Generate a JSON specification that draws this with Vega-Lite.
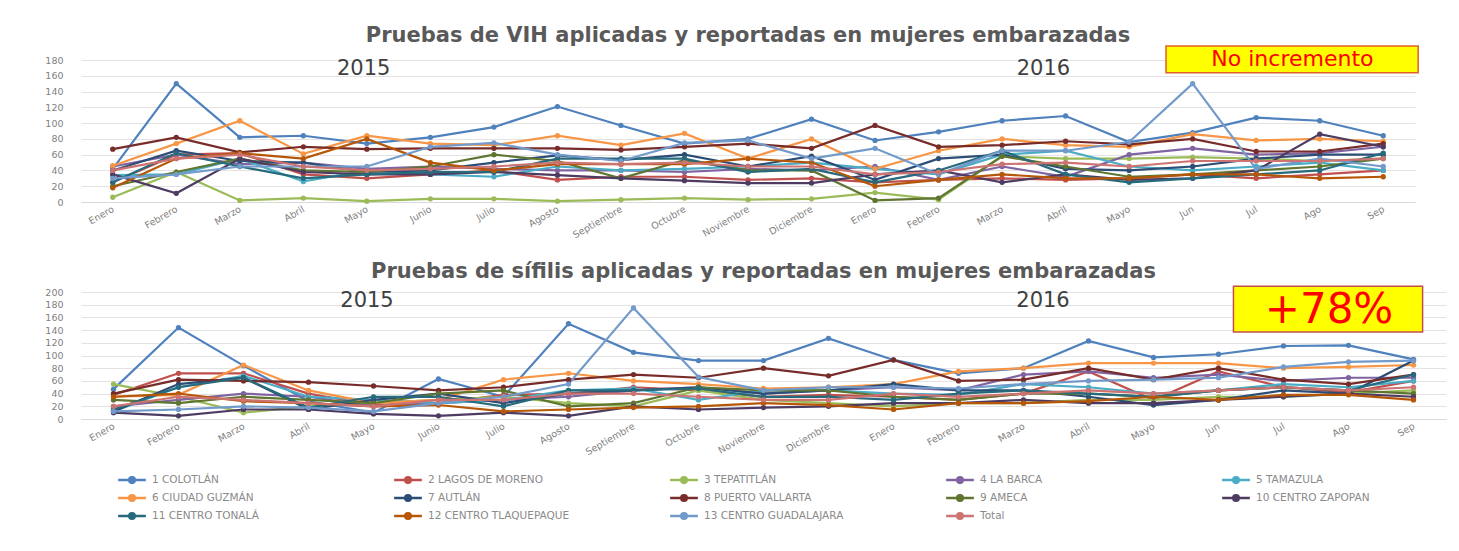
{
"$schema": "https://vega.github.io/schema/vega-lite/v6.json",
"background": "white",
"padding": {"left": 44, "top": 25, "right": 5, "bottom": 5},
"spacing": 20,
"config": {
  "view": {"stroke": null},
  "font": "DejaVu Sans",
  "axis": {"labelColor": "#7F7F7F", "labelFont": "DejaVu Sans", "labelFontSize": 9.5, "ticks": false, "title": null},
  "title": {"font": "DejaVu Sans", "fontWeight": "bold", "fontSize": 21, "color": "#595959", "anchor": "middle", "frame": "group"}
},
"datasets": {
"vih": [
{"m":0,"s":"1 COLOTLÁN","v":42},{"m":1,"s":"1 COLOTLÁN","v":150},{"m":2,"s":"1 COLOTLÁN","v":82},{"m":3,"s":"1 COLOTLÁN","v":84},{"m":4,"s":"1 COLOTLÁN","v":74},{"m":5,"s":"1 COLOTLÁN","v":82},{"m":6,"s":"1 COLOTLÁN","v":95},{"m":7,"s":"1 COLOTLÁN","v":121},{"m":8,"s":"1 COLOTLÁN","v":97},{"m":9,"s":"1 COLOTLÁN","v":74},{"m":10,"s":"1 COLOTLÁN","v":80},{"m":11,"s":"1 COLOTLÁN","v":105},{"m":12,"s":"1 COLOTLÁN","v":78},{"m":13,"s":"1 COLOTLÁN","v":89},{"m":14,"s":"1 COLOTLÁN","v":103},{"m":15,"s":"1 COLOTLÁN","v":109},{"m":16,"s":"1 COLOTLÁN","v":76},{"m":17,"s":"1 COLOTLÁN","v":88},{"m":18,"s":"1 COLOTLÁN","v":107},{"m":19,"s":"1 COLOTLÁN","v":103},{"m":20,"s":"1 COLOTLÁN","v":84},
{"m":0,"s":"2 LAGOS DE MORENO","v":25},{"m":1,"s":"2 LAGOS DE MORENO","v":60},{"m":2,"s":"2 LAGOS DE MORENO","v":62},{"m":3,"s":"2 LAGOS DE MORENO","v":35},{"m":4,"s":"2 LAGOS DE MORENO","v":30},{"m":5,"s":"2 LAGOS DE MORENO","v":35},{"m":6,"s":"2 LAGOS DE MORENO","v":40},{"m":7,"s":"2 LAGOS DE MORENO","v":28},{"m":8,"s":"2 LAGOS DE MORENO","v":32},{"m":9,"s":"2 LAGOS DE MORENO","v":32},{"m":10,"s":"2 LAGOS DE MORENO","v":28},{"m":11,"s":"2 LAGOS DE MORENO","v":30},{"m":12,"s":"2 LAGOS DE MORENO","v":25},{"m":13,"s":"2 LAGOS DE MORENO","v":28},{"m":14,"s":"2 LAGOS DE MORENO","v":30},{"m":15,"s":"2 LAGOS DE MORENO","v":28},{"m":16,"s":"2 LAGOS DE MORENO","v":30},{"m":17,"s":"2 LAGOS DE MORENO","v":35},{"m":18,"s":"2 LAGOS DE MORENO","v":30},{"m":19,"s":"2 LAGOS DE MORENO","v":35},{"m":20,"s":"2 LAGOS DE MORENO","v":40},
{"m":0,"s":"3 TEPATITLÁN","v":6},{"m":1,"s":"3 TEPATITLÁN","v":38},{"m":2,"s":"3 TEPATITLÁN","v":2},{"m":3,"s":"3 TEPATITLÁN","v":5},{"m":4,"s":"3 TEPATITLÁN","v":1},{"m":5,"s":"3 TEPATITLÁN","v":4},{"m":6,"s":"3 TEPATITLÁN","v":4},{"m":7,"s":"3 TEPATITLÁN","v":1},{"m":8,"s":"3 TEPATITLÁN","v":3},{"m":9,"s":"3 TEPATITLÁN","v":5},{"m":10,"s":"3 TEPATITLÁN","v":3},{"m":11,"s":"3 TEPATITLÁN","v":4},{"m":12,"s":"3 TEPATITLÁN","v":12},{"m":13,"s":"3 TEPATITLÁN","v":3},{"m":14,"s":"3 TEPATITLÁN","v":58},{"m":15,"s":"3 TEPATITLÁN","v":55},{"m":16,"s":"3 TEPATITLÁN","v":55},{"m":17,"s":"3 TEPATITLÁN","v":57},{"m":18,"s":"3 TEPATITLÁN","v":55},{"m":19,"s":"3 TEPATITLÁN","v":52},{"m":20,"s":"3 TEPATITLÁN","v":55},
{"m":0,"s":"4 LA BARCA","v":45},{"m":1,"s":"4 LA BARCA","v":60},{"m":2,"s":"4 LA BARCA","v":48},{"m":3,"s":"4 LA BARCA","v":50},{"m":4,"s":"4 LA BARCA","v":42},{"m":5,"s":"4 LA BARCA","v":45},{"m":6,"s":"4 LA BARCA","v":42},{"m":7,"s":"4 LA BARCA","v":40},{"m":8,"s":"4 LA BARCA","v":40},{"m":9,"s":"4 LA BARCA","v":38},{"m":10,"s":"4 LA BARCA","v":42},{"m":11,"s":"4 LA BARCA","v":40},{"m":12,"s":"4 LA BARCA","v":45},{"m":13,"s":"4 LA BARCA","v":28},{"m":14,"s":"4 LA BARCA","v":45},{"m":15,"s":"4 LA BARCA","v":32},{"m":16,"s":"4 LA BARCA","v":60},{"m":17,"s":"4 LA BARCA","v":68},{"m":18,"s":"4 LA BARCA","v":60},{"m":19,"s":"4 LA BARCA","v":62},{"m":20,"s":"4 LA BARCA","v":70},
{"m":0,"s":"5 TAMAZULA","v":34},{"m":1,"s":"5 TAMAZULA","v":35},{"m":2,"s":"5 TAMAZULA","v":55},{"m":3,"s":"5 TAMAZULA","v":26},{"m":4,"s":"5 TAMAZULA","v":40},{"m":5,"s":"5 TAMAZULA","v":35},{"m":6,"s":"5 TAMAZULA","v":32},{"m":7,"s":"5 TAMAZULA","v":45},{"m":8,"s":"5 TAMAZULA","v":40},{"m":9,"s":"5 TAMAZULA","v":42},{"m":10,"s":"5 TAMAZULA","v":45},{"m":11,"s":"5 TAMAZULA","v":50},{"m":12,"s":"5 TAMAZULA","v":42},{"m":13,"s":"5 TAMAZULA","v":35},{"m":14,"s":"5 TAMAZULA","v":60},{"m":15,"s":"5 TAMAZULA","v":65},{"m":16,"s":"5 TAMAZULA","v":45},{"m":17,"s":"5 TAMAZULA","v":40},{"m":18,"s":"5 TAMAZULA","v":45},{"m":19,"s":"5 TAMAZULA","v":50},{"m":20,"s":"5 TAMAZULA","v":40},
{"m":0,"s":"6 CIUDAD GUZMÁN","v":46},{"m":1,"s":"6 CIUDAD GUZMÁN","v":74},{"m":2,"s":"6 CIUDAD GUZMÁN","v":103},{"m":3,"s":"6 CIUDAD GUZMÁN","v":61},{"m":4,"s":"6 CIUDAD GUZMÁN","v":84},{"m":5,"s":"6 CIUDAD GUZMÁN","v":74},{"m":6,"s":"6 CIUDAD GUZMÁN","v":72},{"m":7,"s":"6 CIUDAD GUZMÁN","v":84},{"m":8,"s":"6 CIUDAD GUZMÁN","v":72},{"m":9,"s":"6 CIUDAD GUZMÁN","v":87},{"m":10,"s":"6 CIUDAD GUZMÁN","v":55},{"m":11,"s":"6 CIUDAD GUZMÁN","v":80},{"m":12,"s":"6 CIUDAD GUZMÁN","v":42},{"m":13,"s":"6 CIUDAD GUZMÁN","v":65},{"m":14,"s":"6 CIUDAD GUZMÁN","v":80},{"m":15,"s":"6 CIUDAD GUZMÁN","v":72},{"m":16,"s":"6 CIUDAD GUZMÁN","v":70},{"m":17,"s":"6 CIUDAD GUZMÁN","v":86},{"m":18,"s":"6 CIUDAD GUZMÁN","v":78},{"m":19,"s":"6 CIUDAD GUZMÁN","v":80},{"m":20,"s":"6 CIUDAD GUZMÁN","v":77},
{"m":0,"s":"7 AUTLÁN","v":40},{"m":1,"s":"7 AUTLÁN","v":65},{"m":2,"s":"7 AUTLÁN","v":52},{"m":3,"s":"7 AUTLÁN","v":50},{"m":4,"s":"7 AUTLÁN","v":38},{"m":5,"s":"7 AUTLÁN","v":40},{"m":6,"s":"7 AUTLÁN","v":50},{"m":7,"s":"7 AUTLÁN","v":59},{"m":8,"s":"7 AUTLÁN","v":53},{"m":9,"s":"7 AUTLÁN","v":60},{"m":10,"s":"7 AUTLÁN","v":45},{"m":11,"s":"7 AUTLÁN","v":58},{"m":12,"s":"7 AUTLÁN","v":28},{"m":13,"s":"7 AUTLÁN","v":55},{"m":14,"s":"7 AUTLÁN","v":60},{"m":15,"s":"7 AUTLÁN","v":42},{"m":16,"s":"7 AUTLÁN","v":40},{"m":17,"s":"7 AUTLÁN","v":45},{"m":18,"s":"7 AUTLÁN","v":55},{"m":19,"s":"7 AUTLÁN","v":60},{"m":20,"s":"7 AUTLÁN","v":60},
{"m":0,"s":"8 PUERTO VALLARTA","v":67},{"m":1,"s":"8 PUERTO VALLARTA","v":82},{"m":2,"s":"8 PUERTO VALLARTA","v":63},{"m":3,"s":"8 PUERTO VALLARTA","v":70},{"m":4,"s":"8 PUERTO VALLARTA","v":67},{"m":5,"s":"8 PUERTO VALLARTA","v":68},{"m":6,"s":"8 PUERTO VALLARTA","v":68},{"m":7,"s":"8 PUERTO VALLARTA","v":68},{"m":8,"s":"8 PUERTO VALLARTA","v":66},{"m":9,"s":"8 PUERTO VALLARTA","v":70},{"m":10,"s":"8 PUERTO VALLARTA","v":74},{"m":11,"s":"8 PUERTO VALLARTA","v":68},{"m":12,"s":"8 PUERTO VALLARTA","v":97},{"m":13,"s":"8 PUERTO VALLARTA","v":70},{"m":14,"s":"8 PUERTO VALLARTA","v":72},{"m":15,"s":"8 PUERTO VALLARTA","v":77},{"m":16,"s":"8 PUERTO VALLARTA","v":73},{"m":17,"s":"8 PUERTO VALLARTA","v":80},{"m":18,"s":"8 PUERTO VALLARTA","v":64},{"m":19,"s":"8 PUERTO VALLARTA","v":64},{"m":20,"s":"8 PUERTO VALLARTA","v":74},
{"m":0,"s":"9 AMECA","v":20},{"m":1,"s":"9 AMECA","v":38},{"m":2,"s":"9 AMECA","v":55},{"m":3,"s":"9 AMECA","v":40},{"m":4,"s":"9 AMECA","v":38},{"m":5,"s":"9 AMECA","v":45},{"m":6,"s":"9 AMECA","v":60},{"m":7,"s":"9 AMECA","v":52},{"m":8,"s":"9 AMECA","v":30},{"m":9,"s":"9 AMECA","v":53},{"m":10,"s":"9 AMECA","v":40},{"m":11,"s":"9 AMECA","v":40},{"m":12,"s":"9 AMECA","v":2},{"m":13,"s":"9 AMECA","v":5},{"m":14,"s":"9 AMECA","v":58},{"m":15,"s":"9 AMECA","v":45},{"m":16,"s":"9 AMECA","v":32},{"m":17,"s":"9 AMECA","v":35},{"m":18,"s":"9 AMECA","v":40},{"m":19,"s":"9 AMECA","v":45},{"m":20,"s":"9 AMECA","v":55},
{"m":0,"s":"10 CENTRO ZAPOPAN","v":35},{"m":1,"s":"10 CENTRO ZAPOPAN","v":11},{"m":2,"s":"10 CENTRO ZAPOPAN","v":55},{"m":3,"s":"10 CENTRO ZAPOPAN","v":38},{"m":4,"s":"10 CENTRO ZAPOPAN","v":35},{"m":5,"s":"10 CENTRO ZAPOPAN","v":35},{"m":6,"s":"10 CENTRO ZAPOPAN","v":38},{"m":7,"s":"10 CENTRO ZAPOPAN","v":34},{"m":8,"s":"10 CENTRO ZAPOPAN","v":30},{"m":9,"s":"10 CENTRO ZAPOPAN","v":27},{"m":10,"s":"10 CENTRO ZAPOPAN","v":24},{"m":11,"s":"10 CENTRO ZAPOPAN","v":24},{"m":12,"s":"10 CENTRO ZAPOPAN","v":35},{"m":13,"s":"10 CENTRO ZAPOPAN","v":40},{"m":14,"s":"10 CENTRO ZAPOPAN","v":25},{"m":15,"s":"10 CENTRO ZAPOPAN","v":35},{"m":16,"s":"10 CENTRO ZAPOPAN","v":28},{"m":17,"s":"10 CENTRO ZAPOPAN","v":30},{"m":18,"s":"10 CENTRO ZAPOPAN","v":40},{"m":19,"s":"10 CENTRO ZAPOPAN","v":86},{"m":20,"s":"10 CENTRO ZAPOPAN","v":70},
{"m":0,"s":"11 CENTRO TONALÁ","v":25},{"m":1,"s":"11 CENTRO TONALÁ","v":62},{"m":2,"s":"11 CENTRO TONALÁ","v":45},{"m":3,"s":"11 CENTRO TONALÁ","v":30},{"m":4,"s":"11 CENTRO TONALÁ","v":35},{"m":5,"s":"11 CENTRO TONALÁ","v":38},{"m":6,"s":"11 CENTRO TONALÁ","v":38},{"m":7,"s":"11 CENTRO TONALÁ","v":55},{"m":8,"s":"11 CENTRO TONALÁ","v":55},{"m":9,"s":"11 CENTRO TONALÁ","v":55},{"m":10,"s":"11 CENTRO TONALÁ","v":38},{"m":11,"s":"11 CENTRO TONALÁ","v":42},{"m":12,"s":"11 CENTRO TONALÁ","v":25},{"m":13,"s":"11 CENTRO TONALÁ","v":40},{"m":14,"s":"11 CENTRO TONALÁ","v":65},{"m":15,"s":"11 CENTRO TONALÁ","v":35},{"m":16,"s":"11 CENTRO TONALÁ","v":25},{"m":17,"s":"11 CENTRO TONALÁ","v":30},{"m":18,"s":"11 CENTRO TONALÁ","v":35},{"m":19,"s":"11 CENTRO TONALÁ","v":40},{"m":20,"s":"11 CENTRO TONALÁ","v":62},
{"m":0,"s":"12 CENTRO TLAQUEPAQUE","v":18},{"m":1,"s":"12 CENTRO TLAQUEPAQUE","v":55},{"m":2,"s":"12 CENTRO TLAQUEPAQUE","v":62},{"m":3,"s":"12 CENTRO TLAQUEPAQUE","v":55},{"m":4,"s":"12 CENTRO TLAQUEPAQUE","v":80},{"m":5,"s":"12 CENTRO TLAQUEPAQUE","v":50},{"m":6,"s":"12 CENTRO TLAQUEPAQUE","v":40},{"m":7,"s":"12 CENTRO TLAQUEPAQUE","v":48},{"m":8,"s":"12 CENTRO TLAQUEPAQUE","v":48},{"m":9,"s":"12 CENTRO TLAQUEPAQUE","v":48},{"m":10,"s":"12 CENTRO TLAQUEPAQUE","v":55},{"m":11,"s":"12 CENTRO TLAQUEPAQUE","v":50},{"m":12,"s":"12 CENTRO TLAQUEPAQUE","v":20},{"m":13,"s":"12 CENTRO TLAQUEPAQUE","v":28},{"m":14,"s":"12 CENTRO TLAQUEPAQUE","v":35},{"m":15,"s":"12 CENTRO TLAQUEPAQUE","v":30},{"m":16,"s":"12 CENTRO TLAQUEPAQUE","v":30},{"m":17,"s":"12 CENTRO TLAQUEPAQUE","v":35},{"m":18,"s":"12 CENTRO TLAQUEPAQUE","v":35},{"m":19,"s":"12 CENTRO TLAQUEPAQUE","v":30},{"m":20,"s":"12 CENTRO TLAQUEPAQUE","v":32},
{"m":0,"s":"13 CENTRO GUADALAJARA","v":30},{"m":1,"s":"13 CENTRO GUADALAJARA","v":35},{"m":2,"s":"13 CENTRO GUADALAJARA","v":45},{"m":3,"s":"13 CENTRO GUADALAJARA","v":45},{"m":4,"s":"13 CENTRO GUADALAJARA","v":45},{"m":5,"s":"13 CENTRO GUADALAJARA","v":70},{"m":6,"s":"13 CENTRO GUADALAJARA","v":75},{"m":7,"s":"13 CENTRO GUADALAJARA","v":60},{"m":8,"s":"13 CENTRO GUADALAJARA","v":52},{"m":9,"s":"13 CENTRO GUADALAJARA","v":75},{"m":10,"s":"13 CENTRO GUADALAJARA","v":78},{"m":11,"s":"13 CENTRO GUADALAJARA","v":55},{"m":12,"s":"13 CENTRO GUADALAJARA","v":68},{"m":13,"s":"13 CENTRO GUADALAJARA","v":35},{"m":14,"s":"13 CENTRO GUADALAJARA","v":65},{"m":15,"s":"13 CENTRO GUADALAJARA","v":65},{"m":16,"s":"13 CENTRO GUADALAJARA","v":76},{"m":17,"s":"13 CENTRO GUADALAJARA","v":150},{"m":18,"s":"13 CENTRO GUADALAJARA","v":42},{"m":19,"s":"13 CENTRO GUADALAJARA","v":55},{"m":20,"s":"13 CENTRO GUADALAJARA","v":45},
{"m":0,"s":"Total","v":40},{"m":1,"s":"Total","v":55},{"m":2,"s":"Total","v":60},{"m":3,"s":"Total","v":45},{"m":4,"s":"Total","v":40},{"m":5,"s":"Total","v":42},{"m":6,"s":"Total","v":45},{"m":7,"s":"Total","v":50},{"m":8,"s":"Total","v":48},{"m":9,"s":"Total","v":50},{"m":10,"s":"Total","v":45},{"m":11,"s":"Total","v":45},{"m":12,"s":"Total","v":35},{"m":13,"s":"Total","v":38},{"m":14,"s":"Total","v":48},{"m":15,"s":"Total","v":50},{"m":16,"s":"Total","v":45},{"m":17,"s":"Total","v":52},{"m":18,"s":"Total","v":52},{"m":19,"s":"Total","v":52},{"m":20,"s":"Total","v":55}
],
"sif": [
{"m":0,"s":"1 COLOTLÁN","v":47},{"m":1,"s":"1 COLOTLÁN","v":144},{"m":2,"s":"1 COLOTLÁN","v":84},{"m":3,"s":"1 COLOTLÁN","v":28},{"m":4,"s":"1 COLOTLÁN","v":10},{"m":5,"s":"1 COLOTLÁN","v":63},{"m":6,"s":"1 COLOTLÁN","v":35},{"m":7,"s":"1 COLOTLÁN","v":150},{"m":8,"s":"1 COLOTLÁN","v":105},{"m":9,"s":"1 COLOTLÁN","v":92},{"m":10,"s":"1 COLOTLÁN","v":92},{"m":11,"s":"1 COLOTLÁN","v":127},{"m":12,"s":"1 COLOTLÁN","v":93},{"m":13,"s":"1 COLOTLÁN","v":72},{"m":14,"s":"1 COLOTLÁN","v":80},{"m":15,"s":"1 COLOTLÁN","v":123},{"m":16,"s":"1 COLOTLÁN","v":97},{"m":17,"s":"1 COLOTLÁN","v":102},{"m":18,"s":"1 COLOTLÁN","v":115},{"m":19,"s":"1 COLOTLÁN","v":116},{"m":20,"s":"1 COLOTLÁN","v":94},
{"m":0,"s":"2 LAGOS DE MORENO","v":38},{"m":1,"s":"2 LAGOS DE MORENO","v":72},{"m":2,"s":"2 LAGOS DE MORENO","v":72},{"m":3,"s":"2 LAGOS DE MORENO","v":40},{"m":4,"s":"2 LAGOS DE MORENO","v":22},{"m":5,"s":"2 LAGOS DE MORENO","v":25},{"m":6,"s":"2 LAGOS DE MORENO","v":38},{"m":7,"s":"2 LAGOS DE MORENO","v":40},{"m":8,"s":"2 LAGOS DE MORENO","v":50},{"m":9,"s":"2 LAGOS DE MORENO","v":45},{"m":10,"s":"2 LAGOS DE MORENO","v":35},{"m":11,"s":"2 LAGOS DE MORENO","v":38},{"m":12,"s":"2 LAGOS DE MORENO","v":35},{"m":13,"s":"2 LAGOS DE MORENO","v":30},{"m":14,"s":"2 LAGOS DE MORENO","v":40},{"m":15,"s":"2 LAGOS DE MORENO","v":75},{"m":16,"s":"2 LAGOS DE MORENO","v":30},{"m":17,"s":"2 LAGOS DE MORENO","v":75},{"m":18,"s":"2 LAGOS DE MORENO","v":50},{"m":19,"s":"2 LAGOS DE MORENO","v":42},{"m":20,"s":"2 LAGOS DE MORENO","v":60},
{"m":0,"s":"3 TEPATITLÁN","v":55},{"m":1,"s":"3 TEPATITLÁN","v":35},{"m":2,"s":"3 TEPATITLÁN","v":10},{"m":3,"s":"3 TEPATITLÁN","v":20},{"m":4,"s":"3 TEPATITLÁN","v":25},{"m":5,"s":"3 TEPATITLÁN","v":30},{"m":6,"s":"3 TEPATITLÁN","v":35},{"m":7,"s":"3 TEPATITLÁN","v":25},{"m":8,"s":"3 TEPATITLÁN","v":20},{"m":9,"s":"3 TEPATITLÁN","v":45},{"m":10,"s":"3 TEPATITLÁN","v":30},{"m":11,"s":"3 TEPATITLÁN","v":25},{"m":12,"s":"3 TEPATITLÁN","v":20},{"m":13,"s":"3 TEPATITLÁN","v":25},{"m":14,"s":"3 TEPATITLÁN","v":25},{"m":15,"s":"3 TEPATITLÁN","v":30},{"m":16,"s":"3 TEPATITLÁN","v":30},{"m":17,"s":"3 TEPATITLÁN","v":35},{"m":18,"s":"3 TEPATITLÁN","v":35},{"m":19,"s":"3 TEPATITLÁN","v":40},{"m":20,"s":"3 TEPATITLÁN","v":45},
{"m":0,"s":"4 LA BARCA","v":20},{"m":1,"s":"4 LA BARCA","v":30},{"m":2,"s":"4 LA BARCA","v":40},{"m":3,"s":"4 LA BARCA","v":35},{"m":4,"s":"4 LA BARCA","v":20},{"m":5,"s":"4 LA BARCA","v":25},{"m":6,"s":"4 LA BARCA","v":30},{"m":7,"s":"4 LA BARCA","v":35},{"m":8,"s":"4 LA BARCA","v":45},{"m":9,"s":"4 LA BARCA","v":50},{"m":10,"s":"4 LA BARCA","v":40},{"m":11,"s":"4 LA BARCA","v":45},{"m":12,"s":"4 LA BARCA","v":50},{"m":13,"s":"4 LA BARCA","v":45},{"m":14,"s":"4 LA BARCA","v":70},{"m":15,"s":"4 LA BARCA","v":75},{"m":16,"s":"4 LA BARCA","v":65},{"m":17,"s":"4 LA BARCA","v":70},{"m":18,"s":"4 LA BARCA","v":60},{"m":19,"s":"4 LA BARCA","v":65},{"m":20,"s":"4 LA BARCA","v":65},
{"m":0,"s":"5 TAMAZULA","v":12},{"m":1,"s":"5 TAMAZULA","v":50},{"m":2,"s":"5 TAMAZULA","v":68},{"m":3,"s":"5 TAMAZULA","v":35},{"m":4,"s":"5 TAMAZULA","v":30},{"m":5,"s":"5 TAMAZULA","v":25},{"m":6,"s":"5 TAMAZULA","v":30},{"m":7,"s":"5 TAMAZULA","v":45},{"m":8,"s":"5 TAMAZULA","v":48},{"m":9,"s":"5 TAMAZULA","v":30},{"m":10,"s":"5 TAMAZULA","v":45},{"m":11,"s":"5 TAMAZULA","v":45},{"m":12,"s":"5 TAMAZULA","v":40},{"m":13,"s":"5 TAMAZULA","v":38},{"m":14,"s":"5 TAMAZULA","v":55},{"m":15,"s":"5 TAMAZULA","v":50},{"m":16,"s":"5 TAMAZULA","v":40},{"m":17,"s":"5 TAMAZULA","v":45},{"m":18,"s":"5 TAMAZULA","v":55},{"m":19,"s":"5 TAMAZULA","v":50},{"m":20,"s":"5 TAMAZULA","v":60},
{"m":0,"s":"6 CIUDAD GUZMÁN","v":35},{"m":1,"s":"6 CIUDAD GUZMÁN","v":38},{"m":2,"s":"6 CIUDAD GUZMÁN","v":85},{"m":3,"s":"6 CIUDAD GUZMÁN","v":45},{"m":4,"s":"6 CIUDAD GUZMÁN","v":25},{"m":5,"s":"6 CIUDAD GUZMÁN","v":30},{"m":6,"s":"6 CIUDAD GUZMÁN","v":62},{"m":7,"s":"6 CIUDAD GUZMÁN","v":72},{"m":8,"s":"6 CIUDAD GUZMÁN","v":60},{"m":9,"s":"6 CIUDAD GUZMÁN","v":55},{"m":10,"s":"6 CIUDAD GUZMÁN","v":48},{"m":11,"s":"6 CIUDAD GUZMÁN","v":50},{"m":12,"s":"6 CIUDAD GUZMÁN","v":55},{"m":13,"s":"6 CIUDAD GUZMÁN","v":75},{"m":14,"s":"6 CIUDAD GUZMÁN","v":80},{"m":15,"s":"6 CIUDAD GUZMÁN","v":88},{"m":16,"s":"6 CIUDAD GUZMÁN","v":88},{"m":17,"s":"6 CIUDAD GUZMÁN","v":88},{"m":18,"s":"6 CIUDAD GUZMÁN","v":80},{"m":19,"s":"6 CIUDAD GUZMÁN","v":82},{"m":20,"s":"6 CIUDAD GUZMÁN","v":85},
{"m":0,"s":"7 AUTLÁN","v":12},{"m":1,"s":"7 AUTLÁN","v":55},{"m":2,"s":"7 AUTLÁN","v":65},{"m":3,"s":"7 AUTLÁN","v":15},{"m":4,"s":"7 AUTLÁN","v":30},{"m":5,"s":"7 AUTLÁN","v":40},{"m":6,"s":"7 AUTLÁN","v":25},{"m":7,"s":"7 AUTLÁN","v":40},{"m":8,"s":"7 AUTLÁN","v":45},{"m":9,"s":"7 AUTLÁN","v":50},{"m":10,"s":"7 AUTLÁN","v":40},{"m":11,"s":"7 AUTLÁN","v":45},{"m":12,"s":"7 AUTLÁN","v":55},{"m":13,"s":"7 AUTLÁN","v":45},{"m":14,"s":"7 AUTLÁN","v":45},{"m":15,"s":"7 AUTLÁN","v":35},{"m":16,"s":"7 AUTLÁN","v":22},{"m":17,"s":"7 AUTLÁN","v":30},{"m":18,"s":"7 AUTLÁN","v":45},{"m":19,"s":"7 AUTLÁN","v":40},{"m":20,"s":"7 AUTLÁN","v":92},
{"m":0,"s":"8 PUERTO VALLARTA","v":40},{"m":1,"s":"8 PUERTO VALLARTA","v":62},{"m":2,"s":"8 PUERTO VALLARTA","v":60},{"m":3,"s":"8 PUERTO VALLARTA","v":58},{"m":4,"s":"8 PUERTO VALLARTA","v":52},{"m":5,"s":"8 PUERTO VALLARTA","v":45},{"m":6,"s":"8 PUERTO VALLARTA","v":50},{"m":7,"s":"8 PUERTO VALLARTA","v":62},{"m":8,"s":"8 PUERTO VALLARTA","v":70},{"m":9,"s":"8 PUERTO VALLARTA","v":65},{"m":10,"s":"8 PUERTO VALLARTA","v":80},{"m":11,"s":"8 PUERTO VALLARTA","v":68},{"m":12,"s":"8 PUERTO VALLARTA","v":93},{"m":13,"s":"8 PUERTO VALLARTA","v":60},{"m":14,"s":"8 PUERTO VALLARTA","v":62},{"m":15,"s":"8 PUERTO VALLARTA","v":80},{"m":16,"s":"8 PUERTO VALLARTA","v":62},{"m":17,"s":"8 PUERTO VALLARTA","v":80},{"m":18,"s":"8 PUERTO VALLARTA","v":62},{"m":19,"s":"8 PUERTO VALLARTA","v":55},{"m":20,"s":"8 PUERTO VALLARTA","v":70},
{"m":0,"s":"9 AMECA","v":30},{"m":1,"s":"9 AMECA","v":25},{"m":2,"s":"9 AMECA","v":35},{"m":3,"s":"9 AMECA","v":30},{"m":4,"s":"9 AMECA","v":25},{"m":5,"s":"9 AMECA","v":40},{"m":6,"s":"9 AMECA","v":45},{"m":7,"s":"9 AMECA","v":20},{"m":8,"s":"9 AMECA","v":25},{"m":9,"s":"9 AMECA","v":50},{"m":10,"s":"9 AMECA","v":45},{"m":11,"s":"9 AMECA","v":45},{"m":12,"s":"9 AMECA","v":35},{"m":13,"s":"9 AMECA","v":30},{"m":14,"s":"9 AMECA","v":40},{"m":15,"s":"9 AMECA","v":40},{"m":16,"s":"9 AMECA","v":35},{"m":17,"s":"9 AMECA","v":45},{"m":18,"s":"9 AMECA","v":50},{"m":19,"s":"9 AMECA","v":45},{"m":20,"s":"9 AMECA","v":40},
{"m":0,"s":"10 CENTRO ZAPOPAN","v":10},{"m":1,"s":"10 CENTRO ZAPOPAN","v":5},{"m":2,"s":"10 CENTRO ZAPOPAN","v":15},{"m":3,"s":"10 CENTRO ZAPOPAN","v":15},{"m":4,"s":"10 CENTRO ZAPOPAN","v":8},{"m":5,"s":"10 CENTRO ZAPOPAN","v":5},{"m":6,"s":"10 CENTRO ZAPOPAN","v":10},{"m":7,"s":"10 CENTRO ZAPOPAN","v":5},{"m":8,"s":"10 CENTRO ZAPOPAN","v":20},{"m":9,"s":"10 CENTRO ZAPOPAN","v":15},{"m":10,"s":"10 CENTRO ZAPOPAN","v":18},{"m":11,"s":"10 CENTRO ZAPOPAN","v":20},{"m":12,"s":"10 CENTRO ZAPOPAN","v":25},{"m":13,"s":"10 CENTRO ZAPOPAN","v":25},{"m":14,"s":"10 CENTRO ZAPOPAN","v":30},{"m":15,"s":"10 CENTRO ZAPOPAN","v":25},{"m":16,"s":"10 CENTRO ZAPOPAN","v":25},{"m":17,"s":"10 CENTRO ZAPOPAN","v":30},{"m":18,"s":"10 CENTRO ZAPOPAN","v":35},{"m":19,"s":"10 CENTRO ZAPOPAN","v":40},{"m":20,"s":"10 CENTRO ZAPOPAN","v":35},
{"m":0,"s":"11 CENTRO TONALÁ","v":15},{"m":1,"s":"11 CENTRO TONALÁ","v":50},{"m":2,"s":"11 CENTRO TONALÁ","v":65},{"m":3,"s":"11 CENTRO TONALÁ","v":18},{"m":4,"s":"11 CENTRO TONALÁ","v":35},{"m":5,"s":"11 CENTRO TONALÁ","v":35},{"m":6,"s":"11 CENTRO TONALÁ","v":20},{"m":7,"s":"11 CENTRO TONALÁ","v":45},{"m":8,"s":"11 CENTRO TONALÁ","v":45},{"m":9,"s":"11 CENTRO TONALÁ","v":48},{"m":10,"s":"11 CENTRO TONALÁ","v":35},{"m":11,"s":"11 CENTRO TONALÁ","v":35},{"m":12,"s":"11 CENTRO TONALÁ","v":30},{"m":13,"s":"11 CENTRO TONALÁ","v":40},{"m":14,"s":"11 CENTRO TONALÁ","v":45},{"m":15,"s":"11 CENTRO TONALÁ","v":40},{"m":16,"s":"11 CENTRO TONALÁ","v":35},{"m":17,"s":"11 CENTRO TONALÁ","v":45},{"m":18,"s":"11 CENTRO TONALÁ","v":50},{"m":19,"s":"11 CENTRO TONALÁ","v":45},{"m":20,"s":"11 CENTRO TONALÁ","v":70},
{"m":0,"s":"12 CENTRO TLAQUEPAQUE","v":35},{"m":1,"s":"12 CENTRO TLAQUEPAQUE","v":40},{"m":2,"s":"12 CENTRO TLAQUEPAQUE","v":28},{"m":3,"s":"12 CENTRO TLAQUEPAQUE","v":25},{"m":4,"s":"12 CENTRO TLAQUEPAQUE","v":20},{"m":5,"s":"12 CENTRO TLAQUEPAQUE","v":22},{"m":6,"s":"12 CENTRO TLAQUEPAQUE","v":12},{"m":7,"s":"12 CENTRO TLAQUEPAQUE","v":15},{"m":8,"s":"12 CENTRO TLAQUEPAQUE","v":18},{"m":9,"s":"12 CENTRO TLAQUEPAQUE","v":20},{"m":10,"s":"12 CENTRO TLAQUEPAQUE","v":25},{"m":11,"s":"12 CENTRO TLAQUEPAQUE","v":22},{"m":12,"s":"12 CENTRO TLAQUEPAQUE","v":15},{"m":13,"s":"12 CENTRO TLAQUEPAQUE","v":25},{"m":14,"s":"12 CENTRO TLAQUEPAQUE","v":25},{"m":15,"s":"12 CENTRO TLAQUEPAQUE","v":28},{"m":16,"s":"12 CENTRO TLAQUEPAQUE","v":35},{"m":17,"s":"12 CENTRO TLAQUEPAQUE","v":30},{"m":18,"s":"12 CENTRO TLAQUEPAQUE","v":38},{"m":19,"s":"12 CENTRO TLAQUEPAQUE","v":38},{"m":20,"s":"12 CENTRO TLAQUEPAQUE","v":30},
{"m":0,"s":"13 CENTRO GUADALAJARA","v":12},{"m":1,"s":"13 CENTRO GUADALAJARA","v":15},{"m":2,"s":"13 CENTRO GUADALAJARA","v":20},{"m":3,"s":"13 CENTRO GUADALAJARA","v":18},{"m":4,"s":"13 CENTRO GUADALAJARA","v":12},{"m":5,"s":"13 CENTRO GUADALAJARA","v":25},{"m":6,"s":"13 CENTRO GUADALAJARA","v":35},{"m":7,"s":"13 CENTRO GUADALAJARA","v":55},{"m":8,"s":"13 CENTRO GUADALAJARA","v":175},{"m":9,"s":"13 CENTRO GUADALAJARA","v":66},{"m":10,"s":"13 CENTRO GUADALAJARA","v":45},{"m":11,"s":"13 CENTRO GUADALAJARA","v":50},{"m":12,"s":"13 CENTRO GUADALAJARA","v":50},{"m":13,"s":"13 CENTRO GUADALAJARA","v":48},{"m":14,"s":"13 CENTRO GUADALAJARA","v":55},{"m":15,"s":"13 CENTRO GUADALAJARA","v":60},{"m":16,"s":"13 CENTRO GUADALAJARA","v":62},{"m":17,"s":"13 CENTRO GUADALAJARA","v":65},{"m":18,"s":"13 CENTRO GUADALAJARA","v":82},{"m":19,"s":"13 CENTRO GUADALAJARA","v":90},{"m":20,"s":"13 CENTRO GUADALAJARA","v":92},
{"m":0,"s":"Total","v":20},{"m":1,"s":"Total","v":35},{"m":2,"s":"Total","v":30},{"m":3,"s":"Total","v":25},{"m":4,"s":"Total","v":20},{"m":5,"s":"Total","v":30},{"m":6,"s":"Total","v":30},{"m":7,"s":"Total","v":40},{"m":8,"s":"Total","v":40},{"m":9,"s":"Total","v":35},{"m":10,"s":"Total","v":30},{"m":11,"s":"Total","v":30},{"m":12,"s":"Total","v":40},{"m":13,"s":"Total","v":35},{"m":14,"s":"Total","v":40},{"m":15,"s":"Total","v":45},{"m":16,"s":"Total","v":40},{"m":17,"s":"Total","v":45},{"m":18,"s":"Total","v":50},{"m":19,"s":"Total","v":45},{"m":20,"s":"Total","v":50}
]
},
"vconcat": [
{
 "width": 1334, "height": 142,
 "title": {"text": "Pruebas de VIH aplicadas y reportadas en mujeres embarazadas", "offset": -1},
 "encoding": {
   "x": {"field": "m", "type": "quantitative", "scale": {"domain": [-0.5, 20.5], "nice": false, "zero": false},
      "axis": {"values": [0,1,2,3,4,5,6,7,8,9,10,11,12,13,14,15,16,17,18,19,20], "labelExpr": "['Enero','Febrero','Marzo','Abril','Mayo','Junio','Julio','Agosto','Septiembre','Octubre','Noviembre','Diciembre','Enero','Febrero','Marzo','Abril','Mayo','Jun','Jul','Ago','Sep'][datum.value]", "labelAngle": -30, "labelAlign": "right", "labelBaseline": "middle", "labelPadding": 6, "labelOverlap": false, "grid": false, "domainColor": "#D9D9D9"}},
   "y": {"field": "v", "type": "quantitative", "scale": {"domain": [0, 180], "nice": false, "zero": true},
      "axis": {"values": [0,20,40,60,80,100,120,140,160,180], "tickCount": 10, "labelOverlap": false, "grid": true, "gridColor": "#E3E3E3", "domain": false, "labelPadding": 18}}
 },
 "layer": [
  {"data": {"name": "vih"}, "mark": {"type": "line", "strokeWidth": 2.2},
   "encoding": {
    "color": {"field": "s", "type": "nominal",
      "scale": {"domain": ["1 COLOTLÁN","2 LAGOS DE MORENO","3 TEPATITLÁN","4 LA BARCA","5 TAMAZULA","6 CIUDAD GUZMÁN","7 AUTLÁN","8 PUERTO VALLARTA","9 AMECA","10 CENTRO ZAPOPAN","11 CENTRO TONALÁ","12 CENTRO TLAQUEPAQUE","13 CENTRO GUADALAJARA","Total"],
        "range": ["#4F81BD","#C0504D","#9BBB59","#8064A2","#4BACC6","#F79646","#2C4D75","#772C2A","#5F7530","#4D3B62","#276A7C","#B65708","#729ACA","#CD7371"]},
      "legend": {"orient": "none", "legendX": 41, "legendY": 410, "direction": "horizontal", "columns": 5, "gridAlign": "all", "columnPadding": 95, "rowPadding": 0, "title": null,
        "symbolType": "M-1.6,0H1.6M-0.32,0A0.32,0.32,0,1,1,0.32,0A0.32,0.32,0,1,1,-0.32,0Z", "symbolSize": 300, "symbolStrokeWidth": 2.5, "labelOffset": 10, "labelFontSize": 10.5, "labelColor": "#8A8A8A", "labelFont": "DejaVu Sans", "labelLimit": 250}}
   }},
  {"data": {"name": "vih"}, "mark": {"type": "point", "filled": true, "size": 28, "opacity": 1},
   "encoding": {"color": {"field": "s", "type": "nominal"}}},
  {"data": {"values": [{"t": "2015", "m": 3.95, "v": 169}, {"t": "2016", "m": 14.65, "v": 169}]},
   "mark": {"type": "text", "fontSize": 21, "color": "#404040", "font": "DejaVu Sans"},
   "encoding": {"text": {"field": "t"}}},
  {"data": {"values": [{"m": 16.58, "m2": 20.55, "v": 163.7, "v2": 197.7}]},
   "mark": {"type": "rect", "fill": "#FFFF00", "stroke": "#E0602A", "strokeWidth": 1.5},
   "encoding": {"x2": {"field": "m2"}, "y2": {"field": "v2"}}},
  {"data": {"values": [{"t": "No incremento", "m": 18.57, "v": 181}]},
   "mark": {"type": "text", "fontSize": 22, "color": "#FF0000", "font": "DejaVu Sans"},
   "encoding": {"text": {"field": "t"}}}
 ]
},
{
 "width": 1365, "height": 127,
 "title": {"text": "Pruebas de sífilis aplicadas y reportadas en mujeres embarazadas", "offset": 4},
 "encoding": {
   "x": {"field": "m", "type": "quantitative", "scale": {"domain": [-0.5, 20.5], "nice": false, "zero": false},
      "axis": {"values": [0,1,2,3,4,5,6,7,8,9,10,11,12,13,14,15,16,17,18,19,20], "labelExpr": "['Enero','Febrero','Marzo','Abril','Mayo','Junio','Julio','Agosto','Septiembre','Octubre','Noviembre','Diciembre','Enero','Febrero','Marzo','Abril','Mayo','Jun','Jul','Ago','Sep'][datum.value]", "labelAngle": -30, "labelAlign": "right", "labelBaseline": "middle", "labelPadding": 6, "labelOverlap": false, "grid": false, "domainColor": "#D9D9D9"}},
   "y": {"field": "v", "type": "quantitative", "scale": {"domain": [0, 200], "nice": false, "zero": true},
      "axis": {"values": [0,20,40,60,80,100,120,140,160,180,200], "tickCount": 11, "labelOverlap": false, "grid": true, "gridColor": "#E3E3E3", "domain": false, "labelPadding": 18}}
 },
 "layer": [
  {"data": {"name": "sif"}, "mark": {"type": "line", "strokeWidth": 2.2},
   "encoding": {"color": {"field": "s", "type": "nominal"}}},
  {"data": {"name": "sif"}, "mark": {"type": "point", "filled": true, "size": 28, "opacity": 1},
   "encoding": {"color": {"field": "s", "type": "nominal"}}},
  {"data": {"values": [{"t": "2015", "m": 3.9, "v": 186}, {"t": "2016", "m": 14.3, "v": 186}]},
   "mark": {"type": "text", "fontSize": 21, "color": "#404040", "font": "DejaVu Sans"},
   "encoding": {"text": {"field": "t"}}},
  {"data": {"values": [{"m": 17.23, "m2": 20.14, "v": 137, "v2": 209}]},
   "mark": {"type": "rect", "fill": "#FFFF00", "stroke": "#C0504D", "strokeWidth": 1.5},
   "encoding": {"x2": {"field": "m2"}, "y2": {"field": "v2"}}},
  {"data": {"values": [{"t": "+78%", "m": 18.7, "v": 172}]},
   "mark": {"type": "text", "fontSize": 42, "color": "#FF0000", "font": "DejaVu Sans"},
   "encoding": {"text": {"field": "t"}}}
 ]
}
]
}
